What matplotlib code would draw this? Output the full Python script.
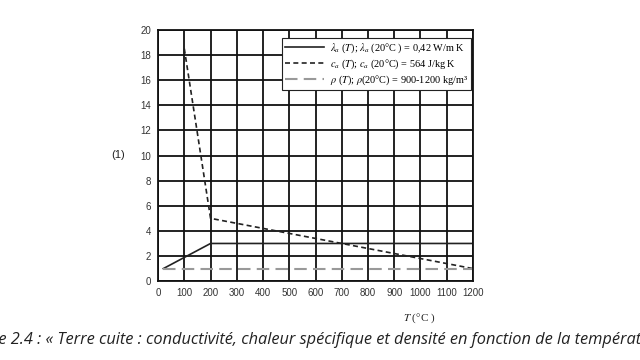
import matplotlib
matplotlib.use("Agg")
import matplotlib.pyplot as plt

plt.rcParams['mathtext.fontset'] = 'stix'

# data
lam_T = [20, 200, 1200]
lam_v = [1, 3, 3]
ca_T = [100, 200, 1200]
ca_v = [18.5, 5, 1]
rho_T = [20, 1200]
rho_v = [1, 1]

labels = [r"$\lambda_a$ ($T$); $\lambda_a$ (20°C ) = 0,42 W/m K",
          r"$c_a$ ($T$); $c_a$ (20°C) = 564 J/kg K",
          r"$\rho$ ($T$); $\rho$(20°C) = 900-1200 kg/m³"]
xticks = list(range(0, 1201, 100))
yticks = list(range(0, 21, 2))

fig = plt.figure(figsize=(6.4, 3.6), dpi=100)
ax = fig.add_axes([0.247, 0.219, 0.492, 0.698])

ax.set_xlim(0, 1200)
ax.set_ylim(0, 20)
ax.set_xticks(xticks)
ax.set_yticks(yticks)
ax.tick_params(length=0, labelsize=7, colors='#333333', pad=5)
for lab in ax.get_xticklabels() + ax.get_yticklabels():
    lab.set_family('Liberation Sans')
ax.grid(True, color='#111111', linewidth=1.3)
ax.set_axisbelow(True)
for s in ax.spines.values():
    s.set_color('#111111')
    s.set_linewidth(1.3)

l1, = ax.plot(lam_T, lam_v, color='#222222', linewidth=1.2, label=labels[0])
l2, = ax.plot(ca_T, ca_v, color='#222222', linewidth=1.2, linestyle=(0, (3, 2)), label=labels[1])
l3, = ax.plot(rho_T, rho_v, color='#999999', linewidth=1.5, linestyle=(0, (6, 3)), label=labels[2])

leg = ax.legend(loc='upper right', bbox_to_anchor=(1.0, 0.975), frameon=True,
                prop={'family': 'Liberation Serif', 'size': 7.4},
                fancybox=False, edgecolor='#222222', framealpha=1, handlelength=3.8,
                borderpad=0.3, labelspacing=0.25, handletextpad=0.6, borderaxespad=0.2)
leg.get_frame().set_linewidth(0.8)

fig.text(0.185, 0.57, "(1)", fontsize=8, family='Liberation Sans', ha='center', va='center', color='#222222')
fig.text(0.655, 0.115, r"$T$ (°C )", fontsize=8, family='Liberation Serif', ha='center', va='center', color='#222222')
fig.text(0.5, 0.055, "Figure 2.4 : « Terre cuite : conductivité, chaleur spécifique et densité en fonction de la température »",
         fontsize=11.8, family='Open Sans', style='italic', ha='center', va='center', color='#222222')

fig.savefig("out.png", dpi=100)
